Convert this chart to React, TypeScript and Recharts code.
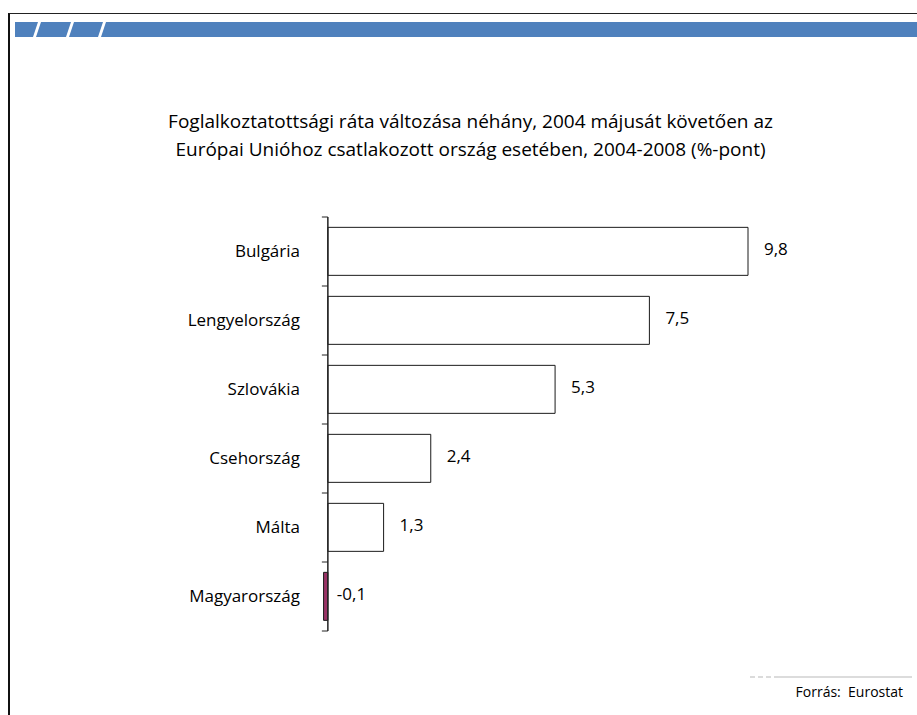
import { BarChart, Bar, XAxis, YAxis, ReferenceLine, LabelList, Cell } from "recharts";

const orszagok = ["Bulgária", "Lengyelország", "Szlovákia", "Csehország", "Málta", "Magyarország"];
const valtozas = [9.8, 7.5, 5.3, 2.4, 1.3, -0.1];
const kiemelt = "Magyarország";

const cimSorok = [
  "Foglalkoztatottsági ráta változása néhány, 2004 májusát követően az",
  "Európai Unióhoz csatlakozott ország esetében, 2004-2008 (%-pont)",
];
const forras = "Forrás:\u00a0\u00a0Eurostat";

const adatok = orszagok.map((nev, i) => ({ nev, ertek: valtozas[i] }));

const W = 917;
const H = 715;
const M = { top: 217, right: 169, bottom: 84, left: 0 };
const Y_W = 315;
const X_MIN = -0.3;
const X_MAX = 9.8;
const FONT = "'Open Sans', 'Noto Sans', sans-serif";

const plotW = W - M.left - Y_W - M.right;
const plotH = H - M.top - M.bottom;
const sav = plotH / orszagok.length;
const nullaX = M.left + Y_W + ((0 - X_MIN) / (X_MAX - X_MIN)) * plotW;

const fmt = (v: number) => String(v).replace(".", ",");

const OrszagTick = ({ x, y, payload, index }: any) => (
  <g>
    <text x={x} y={y} dy="0.35em" textAnchor="end" fontSize={17} fill="#000" fontFamily={FONT}>
      {payload.value}
    </text>
    <line x1={nullaX - 6} x2={nullaX} y1={y - sav / 2} y2={y - sav / 2} stroke="#222" />
    {index === orszagok.length - 1 && (
      <line x1={nullaX - 6} x2={nullaX} y1={y + sav / 2} y2={y + sav / 2} stroke="#222" />
    )}
  </g>
);

const ErtekCimke = (p: any) => {
  const { x, y, width, height, value } = p;
  const jobb = Math.max(x, x + width);
  return (
    <text
      x={value < 0 ? jobb + 9 : jobb + 16}
      y={y + height / 2 - 2}
      dy="0.35em"
      fontSize={17}
      fill="#000"
      fontFamily={FONT}
    >
      {fmt(value)}
    </text>
  );
};

export default function App() {
  return (
    <div style={{ position: "absolute", left: 0, top: 0, width: W, height: H, background: "#fff", overflow: "hidden" }}>
      {/* keret */}
      <div style={{ position: "absolute", left: 8, top: 13, width: W, height: H, borderLeft: "2px solid #111", borderTop: "1px solid #222" }} />
      <svg style={{ position: "absolute", left: 0, top: 0 }} width={W} height={40}>
        <rect x={15} y={22} width={W - 15} height={15} fill="#4F81BD" />
        {[35, 68, 100].map((gx) => (
          <polygon key={gx} points={`${gx + 3},22 ${gx + 6},22 ${gx + 1},37 ${gx - 2},37`} fill="#fff" />
        ))}
      </svg>

      {cimSorok.map((s, i) => (
        <div
          key={i}
          style={{
            position: "absolute", left: 0, width: 941, top: 107 + i * 28, textAlign: "center",
            fontFamily: FONT, fontSize: 19, color: "#000", lineHeight: "28px", whiteSpace: "nowrap",
          }}
        >
          {s}
        </div>
      ))}

      <div style={{ position: "absolute", left: 0, top: 0 }}>
        <BarChart width={W} height={H} data={adatok} layout="vertical" margin={M} barCategoryGap="15%">
          <XAxis type="number" domain={[X_MIN, X_MAX]} hide />
          <YAxis
            type="category"
            dataKey="nev"
            width={Y_W}
            axisLine={false}
            tickLine={false}
            tickSize={0}
            tickMargin={15}
            tick={<OrszagTick />}
            interval={0}
          />
          <Bar dataKey="ertek" stroke="#1a1a1a" strokeWidth={1} isAnimationActive={false}>
            {adatok.map((d) => (
              <Cell key={d.nev} fill={d.nev === kiemelt ? "#993366" : "#ffffff"} />
            ))}
            <LabelList dataKey="ertek" content={<ErtekCimke />} />
          </Bar>
          <ReferenceLine x={0} stroke="#222" strokeWidth={1.5} />
        </BarChart>
      </div>

      <svg style={{ position: "absolute", left: 0, top: 670 }} width={W} height={12}>
        <line x1={750} x2={778} y1={7} y2={7} stroke="#d0d0d0" strokeWidth={1.5} strokeDasharray="5 3" />
        <line x1={778} x2={912} y1={7} y2={7} stroke="#d0d0d0" strokeWidth={1.5} />
      </svg>
      <div style={{ position: "absolute", right: 14, top: 682, fontFamily: FONT, fontSize: 14, color: "#000", whiteSpace: "nowrap" }}>
        {forras}
      </div>
    </div>
  );
}
